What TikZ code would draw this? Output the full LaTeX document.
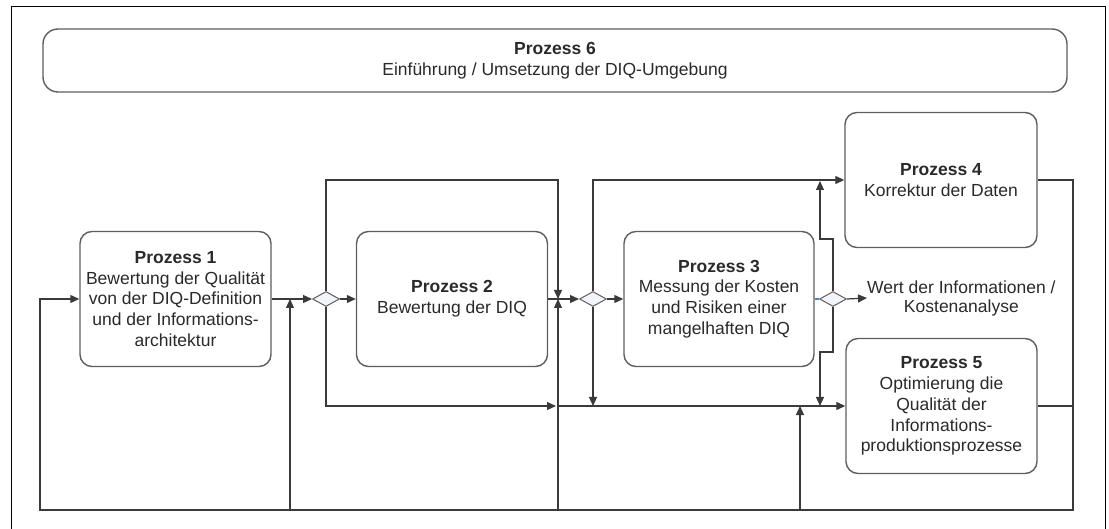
\documentclass[tikz,border=0pt]{standalone}
\usepackage{fontspec}
\setmainfont{Liberation Sans}
\usetikzlibrary{arrows.meta,shapes.geometric}

\definecolor{linegray}{HTML}{3A3A3A}
\definecolor{boxgray}{HTML}{5E5E5E}
\definecolor{gwfill}{HTML}{F1F4FA}
\definecolor{txt}{HTML}{2A2A2A}
\definecolor{selblue}{HTML}{4F81BD}

\begin{document}
\begin{tikzpicture}[x=1pt,y=-1pt,
  proc/.style={draw=boxgray, line width=1.4pt, rounded corners=12pt, fill=white,
    minimum width=191pt, minimum height=135pt, align=center, text=txt,
    font=\fontsize{17.5}{20.8}\selectfont, inner sep=0pt},
  gate/.style={diamond, draw=boxgray, fill=gwfill, line width=1pt,
    minimum width=27pt, minimum height=15pt, inner sep=0pt},
  flow/.style={draw=linegray, line width=1.2pt},
  arr/.style={flow, -{Triangle[length=9pt,width=8pt]}},
  lbl/.style={align=center, text=txt, font=\fontsize{17.5}{19}\selectfont, inner sep=0pt},
]
\useasboundingbox (0,0) rectangle (1109,529);

% outer frame
\draw[black, line width=1pt] (11,7) rectangle (1105,545);

% process boxes
\node[proc, minimum width=1024pt, minimum height=63pt, rounded corners=15pt] (P6) at (555,60.5)
  {\textbf{Prozess 6}\\Einführung / Umsetzung der DIQ-Umgebung};
\node[proc] (P1) at (175.5,299) {\textbf{Prozess 1}\\Bewertung der Qualität\\von der DIQ-Definition\\und der Informations-\\architektur};
\node[proc] (P2) at (452,299) {\textbf{Prozess 2}\\Bewertung der DIQ};
\node[proc, minimum width=190pt] (P3) at (719,299) {\textbf{Prozess 3}\\Messung der Kosten\\und Risiken einer\\mangelhaften DIQ};
\node[proc, minimum width=192pt] (P4) at (941,180) {\textbf{Prozess 4}\\Korrektur der Daten};
\node[proc, minimum width=191pt] (P5) at (941.5,406) {\textbf{Prozess 5}\\Optimierung die\\Qualität der\\Informations-\\produktionsprozesse};

% gateways
\node[gate] (D1) at (326,299) {};
\node[gate] (D2) at (593,299) {};
\node[gate] (D3) at (833,299) {};

% result label
\node[lbl, anchor=west] (W) at (867,298) {Wert der Informationen /\\Kostenanalyse};

% routing points
\coordinate (bl) at (40,510);
\coordinate (br) at (1073,510);
\coordinate (u1) at (290,510);
\coordinate (u2) at (558,510);
\coordinate (u3) at (800,510);
\coordinate (t2) at (558,180);
\coordinate (m2) at (558,299);
\coordinate (r2) at (558,406);
\coordinate (d2) at (593,406);
\coordinate (k1) at (833,239);
\coordinate (k2) at (820,181);
\coordinate (k3) at (833,352);
\coordinate (k4) at (820,406);

% feedback loop along the bottom
\draw[arr] (P4.east) -| (br) -- (bl) |- (P1.west);
\draw[flow] (P5.east) -- (P5.east -| br);
\draw[arr] (u1) -- (u1 |- P1.east);
\draw[arr] (u2) -- (m2);
\draw[arr] (u3) -- (u3 |- k4);

% main flow
\draw[arr] (P1.east) -- (D1.west);
\draw[arr] (D1.east) -- (P2.west);
\draw[arr] (D1.north) |- (t2) -- (m2);
\draw[arr] (D1.south) |- ([xshift=-2pt]r2);
\draw[arr] (r2) -- (P5.west);
\draw[arr] (P2.east) -- (D2.west);
\draw[arr] (D2.east) -- (P3.west);
\draw[arr] (D2.north) |- (P4.west);
\draw[arr] (D2.south) -- (d2);
\draw[selblue, line width=1.2pt] (P3.east) -- (D3.west);
\draw[arr] (D3.east) -- (W.west);
\draw[arr] (D3.north) -- (k1) -| (k2);
\draw[arr] (D3.south) -- (k3) -| (k4);
\end{tikzpicture}
\end{document}
